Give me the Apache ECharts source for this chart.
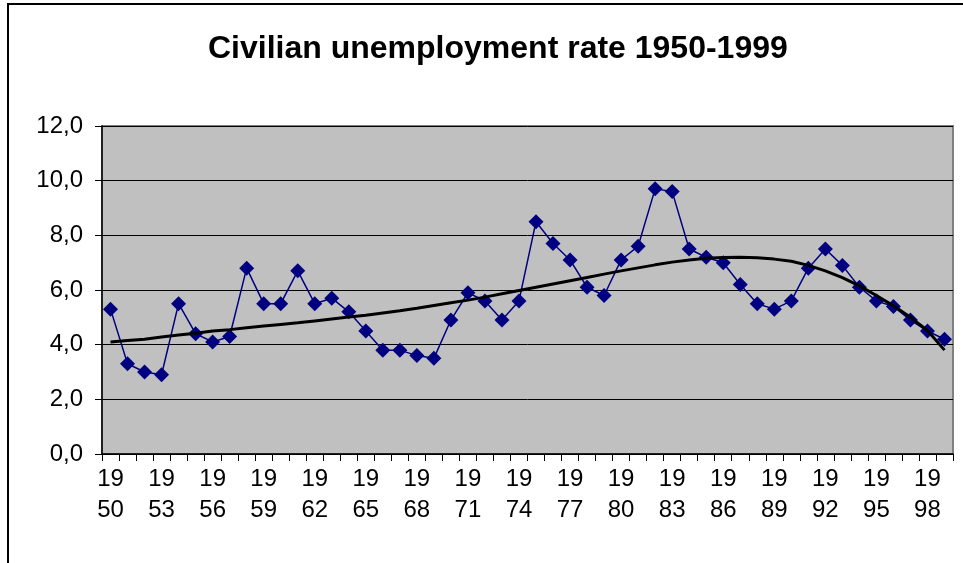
<!DOCTYPE html>
<html>
<head>
<meta charset="utf-8">
<script src="https://cdn.jsdelivr.net/npm/echarts@6/dist/echarts.min.js"></script>
<style>
  html, body { margin: 0; padding: 0; background: #fff; }
  #main { width: 963px; height: 563px; }
</style>
</head>
<body>
<div id="main"></div>
<script>
// years 1950..1999
var years = ['1950','1951','1952','1953','1954','1955','1956','1957','1958','1959',
  '1960','1961','1962','1963','1964','1965','1966','1967','1968','1969',
  '1970','1971','1972','1973','1974','1975','1976','1977','1978','1979',
  '1980','1981','1982','1983','1984','1985','1986','1987','1988','1989',
  '1990','1991','1992','1993','1994','1995','1996','1997','1998','1999'];

var unemployment = [5.3, 3.3, 3.0, 2.9, 5.5, 4.4, 4.1, 4.3, 6.8, 5.5,
  5.5, 6.7, 5.5, 5.7, 5.2, 4.5, 3.8, 3.8, 3.6, 3.5,
  4.9, 5.9, 5.6, 4.9, 5.6, 8.5, 7.7, 7.1, 6.1, 5.8,
  7.1, 7.6, 9.7, 9.6, 7.5, 7.2, 7.0, 6.2, 5.5, 5.3,
  5.6, 6.8, 7.5, 6.9, 6.1, 5.6, 5.4, 4.9, 4.5, 4.2];

// trend line
var trend = [4.1, 4.15, 4.2, 4.28, 4.35, 4.42, 4.5, 4.55, 4.62, 4.68,
  4.74, 4.8, 4.87, 4.94, 5.01, 5.08, 5.16, 5.24, 5.33, 5.43,
  5.53, 5.63, 5.74, 5.86, 5.98, 6.1, 6.22, 6.34, 6.46, 6.58,
  6.7, 6.81, 6.92, 7.02, 7.1, 7.16, 7.19, 7.2, 7.18, 7.13,
  7.05, 6.9, 6.7, 6.45, 6.15, 5.8, 5.42, 5.0, 4.52, 3.8];

var chart = echarts.init(document.getElementById('main'));

chart.setOption({
  animation: false,
  backgroundColor: '#fff',
  textStyle: { fontFamily: 'Liberation Sans, Arial, sans-serif' },
  title: {
    text: 'Civilian unemployment rate 1950-1999',
    left: 203,
    top: 28,
    textStyle: { fontSize: 32, fontWeight: 'bold', color: '#000', fontFamily: 'Liberation Sans, Arial, sans-serif' }
  },
  graphic: [{
    type: 'rect',
    silent: true,
    z: -10,
    shape: { x: 8, y: 4, width: 2000, height: 2000 },
    style: { fill: 'none', stroke: '#000', lineWidth: 2 }
  }],
  grid: {
    left: 102, top: 126, right: 10, bottom: 109,
    show: true,
    backgroundColor: '#c0c0c0',
    borderColor: '#808080',
    borderWidth: 2
  },
  xAxis: {
    type: 'category',
    data: years,
    boundaryGap: true,
    axisLine: { lineStyle: { color: '#000', width: 1.5 } },
    axisTick: { show: true, interval: 0, length: 7, lineStyle: { color: '#000' } },
    axisLabel: {
      interval: 2,
      margin: 10,
      fontSize: 24,
      lineHeight: 31,
      color: '#000',
      formatter: function (v) { return v.slice(0, 2) + '\n' + v.slice(2); }
    },
    splitLine: { show: false }
  },
  yAxis: {
    type: 'value',
    min: 0, max: 12, interval: 2,
    axisLine: { show: true, lineStyle: { color: '#000', width: 1.5 } },
    axisTick: { show: true, length: 7, lineStyle: { color: '#000' } },
    axisLabel: {
      margin: 19,
      fontSize: 24,
      color: '#000',
      formatter: function (v) { return v.toFixed(1).replace('.', ','); }
    },
    splitLine: { show: true, lineStyle: { color: '#000', width: 1 } }
  },
  series: [{
    name: 'Unemployment rate',
    type: 'line',
    data: unemployment,
    symbol: 'diamond',
    symbolSize: 15,
    showAllSymbol: true,
    lineStyle: { color: '#000080', width: 1.5 },
    itemStyle: { color: '#000080' },
    z: 2
  }, {
    name: 'Trend',
    type: 'line',
    data: trend,
    symbol: 'none',
    lineStyle: { color: '#000', width: 3 },
    z: 3
  }]
});
</script>
</body>
</html>
